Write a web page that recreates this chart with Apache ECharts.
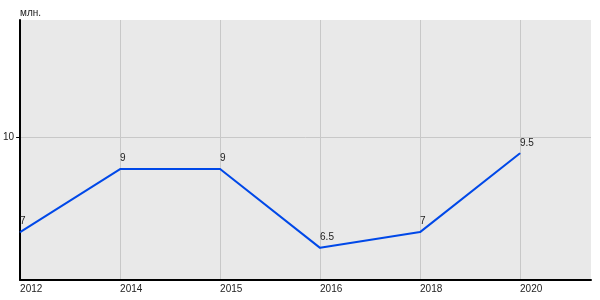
<!DOCTYPE html>
<html>
<head>
<meta charset="utf-8">
<script src="https://cdn.jsdelivr.net/npm/echarts@6/dist/echarts.min.js"></script>
<style>html,body{margin:0;padding:0;background:#fff}#c{width:600px;height:300px}</style>
</head>
<body>
<div id="c"></div>
<script>
const years = ['2012', '2014', '2015', '2016', '2018', '2020'];
const values = [7, 9, 9, 6.5, 7, 9.5];
const yTicks = [10];
const unitLabel = 'млн.';

const chart = echarts.init(document.getElementById('c'), null, {renderer: 'canvas'});
const pts = values.map((v, i) => [i, v]);
const fontFamily = 'Liberation Sans, Arial, sans-serif';
chart.setOption({
  animation: false,
  grid: {left: 20, right: 9, top: 20, bottom: 20, show: true, backgroundColor: '#e9e9e9', borderWidth: 0},
  xAxis: {
    type: 'value', min: 0, max: 5.71, interval: 1,
    axisLine: {lineStyle: {color: '#000', width: 2}},
    axisTick: {show: false, customValues: [0,1,2,3,4,5]},
    axisLabel: {customValues: [0,1,2,3,4,5], formatter: v => years[Math.round(v)] || '', align: 'left', margin: 4, color: '#222', fontSize: 10, fontFamily},
    splitLine: {show: true, lineStyle: {color: '#c8c8c8', width: 1}}
  },
  yAxis: {
    type: 'value', min: 5.48, max: 13.73,
    name: unitLabel, nameLocation: 'end', nameGap: 2,
    nameTextStyle: {align: 'left', color: '#222', fontSize: 10, fontFamily, padding: [0,0,0,0]},
    axisLine: {show: true, lineStyle: {color: '#000', width: 2}},
    axisTick: {show: true, length: 4, customValues: yTicks, lineStyle: {color: '#000'}},
    axisLabel: {customValues: yTicks, margin: 6, color: '#222', fontSize: 10, fontFamily, verticalAlign: 'middle', padding: [0,0,6,0]},
    splitLine: {show: true, lineStyle: {color: '#c8c8c8', width: 1}}
  },
  series: [{
    type: 'line', data: pts,
    symbol: 'circle', symbolSize: 1,
    itemStyle: {color: '#0048e8'},
    lineStyle: {color: '#0048e8', width: 2},
    label: {show: true, position: 'top', align: 'left', distance: 5, color: '#222', fontSize: 10, fontFamily, formatter: p => String(p.value[1])}
  }]
});
</script>
</body>
</html>
